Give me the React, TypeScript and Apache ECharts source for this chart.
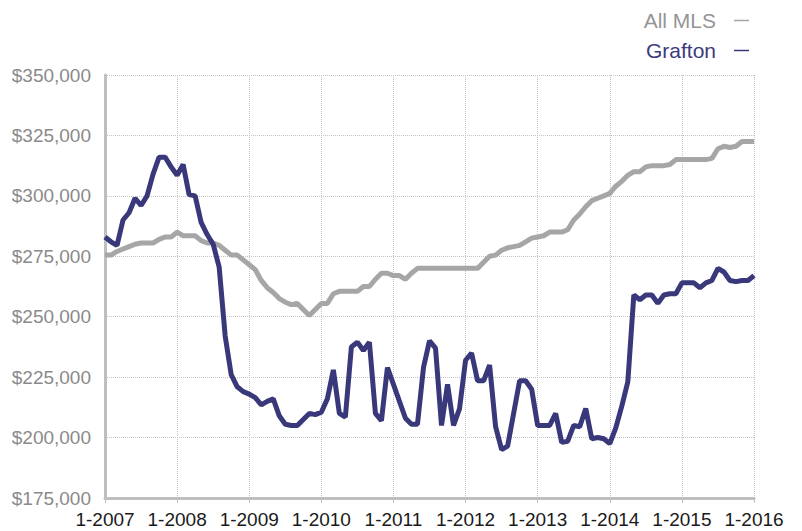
import React, { useEffect, useRef } from "react";
import * as echarts from "echarts";

const years = [2007, 2008, 2009, 2010, 2011, 2012, 2013, 2014, 2015, 2016];
// monthly categories Jan 2007 .. Jan 2016
const months: string[] = [];
for (const y of years) {
  for (let m = 1; m <= 12; m++) {
    if (y === 2016 && m > 1) break;
    months.push(`${m}-${y}`);
  }
}

const allMLS = [
  275500, 275500, 277000, 278000, 279000, 280000, 280500, 280500, 280500, 282000, 283000, 283000,
  285000, 283500, 283500, 283500, 281500, 280500, 280500, 279500, 277500, 275500, 275500, 273500,
  271500, 269500, 265000, 262000, 260000, 257500, 256000, 255000, 255500, 253000, 250500, 253000,
  255500, 255500, 259500, 260500, 260500, 260500, 260500, 262500, 262500, 265500, 268000, 268000,
  267000, 267000, 265500, 268000, 270000, 270000, 270000, 270000, 270000, 270000, 270000, 270000,
  270000, 270000, 270000, 272500, 275000, 275500, 277500, 278500, 279000, 279500, 281000, 282500,
  283000, 283500, 285000, 285000, 285000, 286000, 290000, 292500, 295500, 298000, 299000, 300000,
  301000, 304000, 306000, 308500, 310000, 310000, 312000, 312500, 312500, 312500, 313000, 315000,
  315000, 315000, 315000, 315000, 315000, 315500, 319500, 320500, 320000, 320500, 322500, 322500,
  322500,
];

const grafton = [
  283000, 281000, 279500, 290000, 293000, 299000, 296000, 300000, 309000, 316000, 316000, 312000,
  308500, 313000, 300500, 300000, 289000, 284000, 280000, 270500, 242000, 226000, 221000, 219000,
  218000, 216500, 213500, 215000, 216000, 209000, 205500, 205000, 205000, 207500, 210000, 209500,
  210500, 216000, 228000, 210000, 208500, 237500, 239500, 236000, 239500, 210000, 207000, 229000,
  222000, 215000, 208000, 205500, 205500, 229000, 240000, 237000, 205000, 222000, 205000, 212000,
  232000, 235000, 223500, 223500, 230000, 204500, 195000, 196500, 210000, 223500, 223500, 220000,
  205000, 205000, 205000, 210000, 198000, 198500, 205000, 204500, 212000, 199500, 200000, 199500,
  197500, 204000, 213000, 223000, 259000, 257000, 259000, 259000, 255500, 259000, 259500, 259500,
  264000, 264000, 264000, 262000, 264000, 265000, 270000, 268500, 265000, 264500, 265000, 265000,
  267000,
];

const seriesNames = ["All MLS", "Grafton"];
const lineColors = ["#a6a6a6", "#38387a"];
const legendTextColors = ["#959595", "#3b3a7d"];

export default function App() {
  const ref = useRef<HTMLDivElement>(null);
  useEffect(() => {
    if (!ref.current) return;
    const chart = echarts.init(ref.current, undefined, { renderer: "svg" });
    chart.setOption({
      animation: false,
      textStyle: { fontFamily: "Liberation Sans, Arial, sans-serif" },
      grid: { left: 105, right: 48, top: 75, bottom: 33, containLabel: false },
      legend: {
        orient: "vertical",
        right: 48,
        top: 5,
        align: "right",
        icon: "rect",
        itemWidth: 15,
        itemHeight: 1.5,
        itemGap: 9,
        selectedMode: false,
        textStyle: { fontSize: 21, padding: [0, 13, 0, 0] },
        data: seriesNames.map((n, i) => ({
          name: n,
          textStyle: { color: legendTextColors[i], fontSize: 21 },
          itemStyle: { color: lineColors[i] },
        })),
      },
      xAxis: {
        type: "category",
        data: months,
        boundaryGap: false,
        axisLine: { show: true, lineStyle: { color: "#bfbfbf", width: 3 } },
        axisTick: {
          show: true,
          interval: 11,
          length: 5,
          lineStyle: { color: "#bfbfbf", width: 1 },
        },
        axisLabel: {
          interval: 11,
          color: "#1a1a1a",
          fontSize: 19,
          margin: 12,
        },
        splitLine: {
          show: true,
          interval: 11,
          lineStyle: { color: "#c4c4c4", type: "dotted", width: 1 },
        },
      },
      yAxis: {
        type: "value",
        min: 175000,
        max: 350000,
        interval: 25000,
        axisLine: { show: true, lineStyle: { color: "#bfbfbf", width: 3 } },
        axisTick: { show: false },
        axisLabel: {
          color: "#8a8a8a",
          fontSize: 19,
          margin: 14,
          formatter: (v: number) => "$" + v.toLocaleString("en-US"),
        },
        splitLine: {
          show: true,
          lineStyle: { color: "#c4c4c4", type: "dotted", width: 1 },
        },
      },
      series: [
        {
          name: seriesNames[0],
          type: "line",
          data: allMLS,
          showSymbol: false,
          symbol: "none",
          lineStyle: { color: lineColors[0], width: 5 },
          itemStyle: { color: lineColors[0] },
        },
        {
          name: seriesNames[1],
          type: "line",
          data: grafton,
          showSymbol: false,
          symbol: "none",
          lineStyle: { color: lineColors[1], width: 5 },
          itemStyle: { color: lineColors[1] },
        },
      ],
    });
    return () => chart.dispose();
  }, []);
  return (
    <div
      ref={ref}
      style={{ position: "fixed", left: 0, top: 0, width: 802, height: 531, background: "#fff" }}
    />
  );
}
